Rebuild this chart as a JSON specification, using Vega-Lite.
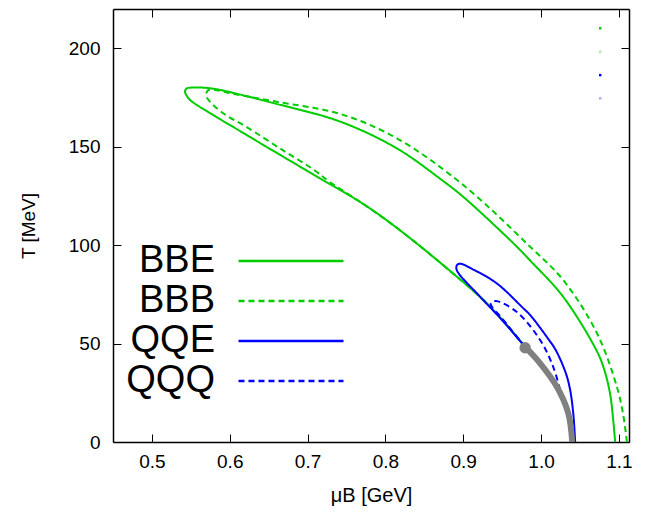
{
  "$schema": "https://vega.github.io/schema/vega-lite/v6.json",
  "width": 516,
  "height": 433,
  "autosize": {"type": "none"},
  "padding": {"left": 113, "top": 9, "right": 17, "bottom": 70},
  "config": {
    "view": {"stroke": null},
    "font": "Liberation Sans",
    "axis": {
      "domainColor": "#000000",
      "domainWidth": 1.5,
      "tickColor": "#000000",
      "tickSize": -8,
      "tickWidth": 1,
      "labelColor": "#000000",
      "labelFont": "Liberation Sans",
      "labelFontSize": 19,
      "titleFont": "Liberation Sans",
      "titleFontSize": 19,
      "titleFontWeight": "normal",
      "titleColor": "#000000",
      "grid": false
    }
  },
  "datasets": {
    "curves": [
      {"s": "BBE", "i": 1, "x": 1.0952, "y": 0},
      {"s": "BBE", "i": 2, "x": 1.0925, "y": 12},
      {"s": "BBE", "i": 3, "x": 1.0885, "y": 24.9},
      {"s": "BBE", "i": 4, "x": 1.081, "y": 37},
      {"s": "BBE", "i": 5, "x": 1.0717, "y": 46.2},
      {"s": "BBE", "i": 6, "x": 1.0284, "y": 73.8},
      {"s": "BBE", "i": 7, "x": 0.986, "y": 92.2},
      {"s": "BBE", "i": 8, "x": 0.9641, "y": 101.1},
      {"s": "BBE", "i": 9, "x": 0.8999, "y": 124.6},
      {"s": "BBE", "i": 10, "x": 0.8725, "y": 133.1},
      {"s": "BBE", "i": 11, "x": 0.8147, "y": 149.2},
      {"s": "BBE", "i": 12, "x": 0.7418, "y": 162.8},
      {"s": "BBE", "i": 13, "x": 0.6559, "y": 172.2},
      {"s": "BBE", "i": 14, "x": 0.5875, "y": 178.9},
      {"s": "BBE", "i": 15, "x": 0.5708, "y": 179.9},
      {"s": "BBE", "i": 16, "x": 0.552, "y": 180.1},
      {"s": "BBE", "i": 17, "x": 0.5445, "y": 179.6},
      {"s": "BBE", "i": 18, "x": 0.5425, "y": 178.0},
      {"s": "BBE", "i": 19, "x": 0.545, "y": 175.8},
      {"s": "BBE", "i": 20, "x": 0.5495, "y": 173.6},
      {"s": "BBE", "i": 21, "x": 0.5785, "y": 166.2},
      {"s": "BBE", "i": 22, "x": 0.6132, "y": 158.0},
      {"s": "BBE", "i": 23, "x": 0.6428, "y": 151.0},
      {"s": "BBE", "i": 24, "x": 0.7071, "y": 136.0},
      {"s": "BBE", "i": 25, "x": 0.7713, "y": 121.0},
      {"s": "BBE", "i": 26, "x": 0.815, "y": 108.7},
      {"s": "BBE", "i": 27, "x": 0.8789, "y": 88.3},
      {"s": "BBE", "i": 28, "x": 0.9346, "y": 68.8},
      {"s": "BBE", "i": 29, "x": 0.9808, "y": 47.8},
      {"s": "BBB", "i": 1, "x": 1.1103, "y": 0},
      {"s": "BBB", "i": 2, "x": 1.1055, "y": 14},
      {"s": "BBB", "i": 3, "x": 1.0974, "y": 28.1},
      {"s": "BBB", "i": 4, "x": 1.0717, "y": 55.4},
      {"s": "BBB", "i": 5, "x": 1.0284, "y": 82.3},
      {"s": "BBB", "i": 6, "x": 0.986, "y": 99.2},
      {"s": "BBB", "i": 7, "x": 0.8999, "y": 130.6},
      {"s": "BBB", "i": 8, "x": 0.8147, "y": 154.3},
      {"s": "BBB", "i": 9, "x": 0.7418, "y": 166.7},
      {"s": "BBB", "i": 10, "x": 0.66, "y": 172.9},
      {"s": "BBB", "i": 11, "x": 0.6055, "y": 176.8},
      {"s": "BBB", "i": 12, "x": 0.581, "y": 178.9},
      {"s": "BBB", "i": 13, "x": 0.5728, "y": 178.9},
      {"s": "BBB", "i": 14, "x": 0.5695, "y": 176.5},
      {"s": "BBB", "i": 15, "x": 0.5727, "y": 173.8},
      {"s": "BBB", "i": 16, "x": 0.5916, "y": 167.0},
      {"s": "BBB", "i": 17, "x": 0.6218, "y": 160.0},
      {"s": "BBB", "i": 18, "x": 0.67, "y": 147.8},
      {"s": "BBB", "i": 19, "x": 0.7071, "y": 138.6},
      {"s": "BBB", "i": 20, "x": 0.7289, "y": 132.0},
      {"s": "BBB", "i": 21, "x": 0.7713, "y": 121.0},
      {"s": "BBB", "i": 22, "x": 0.815, "y": 108.7},
      {"s": "BBB", "i": 23, "x": 0.8789, "y": 88.3},
      {"s": "BBB", "i": 24, "x": 0.9346, "y": 68.8},
      {"s": "BBB", "i": 25, "x": 0.9808, "y": 47.8},
      {"s": "QQE", "i": 1, "x": 1.0438, "y": 0},
      {"s": "QQE", "i": 2, "x": 1.0415, "y": 14},
      {"s": "QQE", "i": 3, "x": 1.0374, "y": 26.4},
      {"s": "QQE", "i": 4, "x": 1.0317, "y": 35.1},
      {"s": "QQE", "i": 5, "x": 1.0189, "y": 46.7},
      {"s": "QQE", "i": 6, "x": 1.0103, "y": 51.8},
      {"s": "QQE", "i": 7, "x": 0.986, "y": 64.5},
      {"s": "QQE", "i": 8, "x": 0.9773, "y": 67.9},
      {"s": "QQE", "i": 9, "x": 0.9431, "y": 80.6},
      {"s": "QQE", "i": 10, "x": 0.913, "y": 87.6},
      {"s": "QQE", "i": 11, "x": 0.896, "y": 90.6},
      {"s": "QQE", "i": 12, "x": 0.8922, "y": 90.0},
      {"s": "QQE", "i": 13, "x": 0.8911, "y": 88.6},
      {"s": "QQE", "i": 14, "x": 0.893, "y": 86.3},
      {"s": "QQE", "i": 15, "x": 0.9217, "y": 73.8},
      {"s": "QQE", "i": 16, "x": 0.9474, "y": 63.0},
      {"s": "QQE", "i": 17, "x": 0.9753, "y": 50.3},
      {"s": "QQE", "i": 18, "x": 0.9808, "y": 47.8},
      {"s": "QQQ", "i": 1, "x": 1.0245, "y": 26.4},
      {"s": "QQQ", "i": 2, "x": 1.0155, "y": 38.3},
      {"s": "QQQ", "i": 3, "x": 0.9988, "y": 51.8},
      {"s": "QQQ", "i": 4, "x": 0.9685, "y": 66.2},
      {"s": "QQQ", "i": 5, "x": 0.9423, "y": 71.6},
      {"s": "QQQ", "i": 6, "x": 0.9368, "y": 71.0},
      {"s": "QQQ", "i": 7, "x": 0.9354, "y": 70.0},
      {"s": "QQQ", "i": 8, "x": 0.9372, "y": 68.5},
      {"s": "QQQ", "i": 9, "x": 0.9494, "y": 63.0},
      {"s": "QQQ", "i": 10, "x": 0.9753, "y": 50.3},
      {"s": "QQQ", "i": 11, "x": 0.9808, "y": 47.8}
    ],
    "gray": [
      {"i": 1, "x": 0.9808, "y": 47.8},
      {"i": 2, "x": 0.9988, "y": 40.0},
      {"i": 3, "x": 1.0203, "y": 28.1},
      {"i": 4, "x": 1.0349, "y": 14.7},
      {"i": 5, "x": 1.04, "y": 0}
    ],
    "cep": [{"x": 0.9795, "y": 47.9}],
    "keys": [
      {"k": "BBE", "x": 1.076, "y": 210.2},
      {"k": "BBB", "x": 1.076, "y": 198.3},
      {"k": "QQE", "x": 1.076, "y": 186.4},
      {"k": "QQQ", "x": 1.076, "y": 174.6}
    ]
  },
  "layer": [
    {
      "data": {"name": "curves"},
      "mark": {"type": "line", "strokeWidth": 2, "clip": true, "interpolate": "catmull-rom"},
      "encoding": {
        "x": {
          "field": "x", "type": "quantitative",
          "scale": {"domain": [0.45, 1.113], "nice": false, "zero": false},
          "axis": {"orient": "bottom", "values": [0.5, 0.6, 0.7, 0.8, 0.9, 1, 1.1], "labelPadding": 18, "title": "μB [GeV]", "titlePadding": 14, "titleFontSize": 20, "labelFlush": false}
        },
        "y": {
          "field": "y", "type": "quantitative",
          "scale": {"domain": [0, 220], "nice": false, "zero": false},
          "axis": {"orient": "left", "values": [0, 50, 100, 150, 200], "labelPadding": 21, "title": "T [MeV]", "titlePadding": 30}
        },
        "order": {"field": "i", "type": "quantitative"},
        "color": {
          "field": "s", "type": "nominal",
          "scale": {"domain": ["BBE", "BBB", "QQE", "QQQ"], "range": ["#00cc00", "#00cc00", "#0000ff", "#0000ff"]},
          "legend": {"orient": "none", "legendX": 159, "legendY": 233, "title": null, "symbolType": "M-5,0H5", "symbolSize": 441, "symbolStrokeWidth": 2.3, "symbolOpacity": 1, "labelFontSize": 38, "labelFont": "Liberation Sans", "labelColor": "#000000", "labelAlign": "right", "labelOffset": -95, "rowPadding": 2, "padding": 0, "symbolOffset": 0}
        },
        "strokeDash": {
          "field": "s", "type": "nominal",
          "scale": {"domain": ["BBE", "BBB", "QQE", "QQQ"], "range": [[1, 0], [6, 4], [1, 0], [6, 4]]},
          "legend": {"orient": "none", "legendX": 159, "legendY": 233, "title": null, "symbolType": "M-5,0H5", "symbolSize": 441, "symbolStrokeWidth": 2.3, "symbolOpacity": 1, "labelFontSize": 38, "labelFont": "Liberation Sans", "labelColor": "#000000", "labelAlign": "right", "labelOffset": -95, "rowPadding": 2, "padding": 0, "symbolOffset": 0}
        }
      }
    },
    {
      "data": {"name": "gray"},
      "mark": {"type": "line", "strokeWidth": 6, "color": "#808080", "clip": true, "interpolate": "catmull-rom"},
      "encoding": {
        "x": {"field": "x", "type": "quantitative", "axis": {"orient": "top", "values": [0.5, 0.6, 0.7, 0.8, 0.9, 1, 1.1], "labels": false, "title": null}},
        "y": {"field": "y", "type": "quantitative", "axis": {"orient": "right", "values": [0, 50, 100, 150, 200], "labels": false, "title": null}},
        "order": {"field": "i", "type": "quantitative"}
      }
    },
    {
      "data": {"name": "cep"},
      "mark": {"type": "point", "filled": true, "size": 130, "color": "#808080", "opacity": 1},
      "encoding": {
        "x": {"field": "x", "type": "quantitative", "axis": null},
        "y": {"field": "y", "type": "quantitative", "axis": null}
      }
    },
    {
      "data": {"name": "keys"},
      "transform": [{"filter": "datum.k == 'BBE'"}],
      "mark": {"type": "square", "size": 6, "color": "#00cc00", "opacity": 1},
      "encoding": {
        "x": {"field": "x", "type": "quantitative", "axis": null},
        "y": {"field": "y", "type": "quantitative", "axis": null}
      }
    },
    {
      "data": {"name": "keys"},
      "transform": [{"filter": "datum.k == 'BBB'"}],
      "mark": {"type": "square", "size": 6, "color": "#00cc00", "opacity": 0.35},
      "encoding": {
        "x": {"field": "x", "type": "quantitative", "axis": null},
        "y": {"field": "y", "type": "quantitative", "axis": null}
      }
    },
    {
      "data": {"name": "keys"},
      "transform": [{"filter": "datum.k == 'QQE'"}],
      "mark": {"type": "square", "size": 6, "color": "#0000ff", "opacity": 1},
      "encoding": {
        "x": {"field": "x", "type": "quantitative", "axis": null},
        "y": {"field": "y", "type": "quantitative", "axis": null}
      }
    },
    {
      "data": {"name": "keys"},
      "transform": [{"filter": "datum.k == 'QQQ'"}],
      "mark": {"type": "square", "size": 6, "color": "#0000ff", "opacity": 0.35},
      "encoding": {
        "x": {"field": "x", "type": "quantitative", "axis": null},
        "y": {"field": "y", "type": "quantitative", "axis": null}
      }
    }
  ],
  "resolve": {"axis": {"x": "independent", "y": "independent"}}
}
